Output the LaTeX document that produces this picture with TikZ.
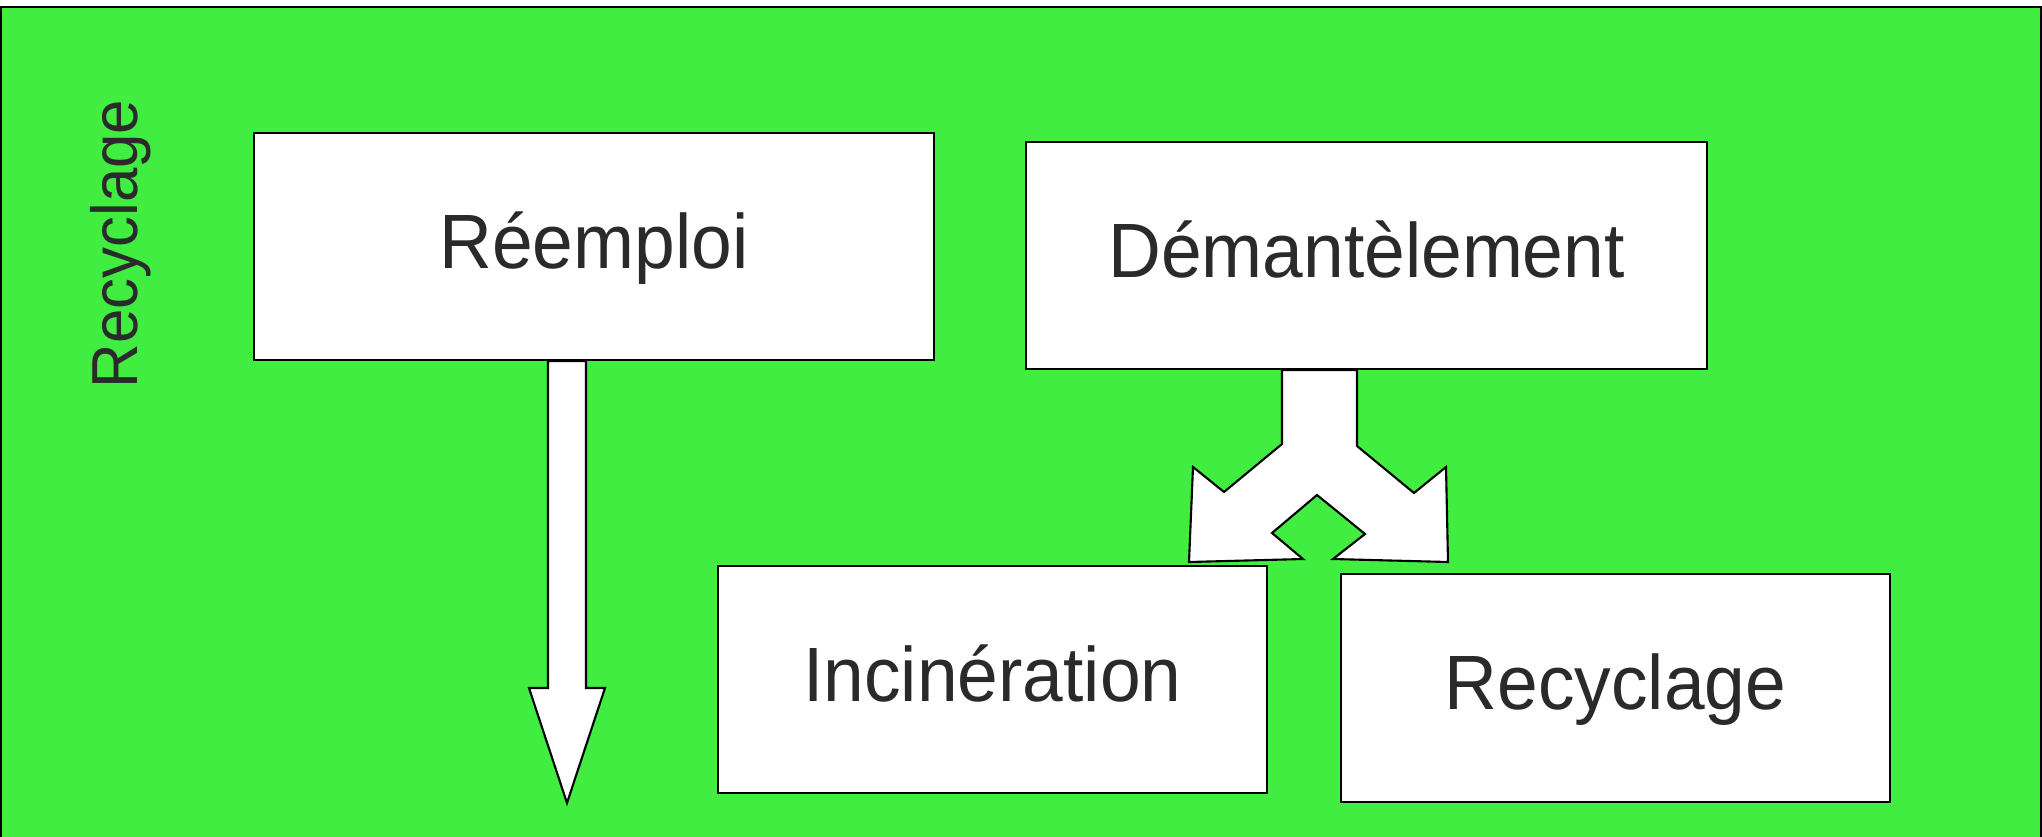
\documentclass[tikz,border=0pt]{standalone}
\usepackage{fontspec}
\setmainfont[FakeStretch=0.95]{Liberation Sans}
\definecolor{bggreen}{RGB}{64,237,64}
\definecolor{txtgray}{RGB}{42,42,42}

\begin{document}
\begin{tikzpicture}[
	x=0.01cm, y=-0.01cm,
	cell/.style={
		rectangle,
		draw,
		fill=white,
		line width=0.6pt,
		align=center,
		text=txtgray,
		font=\fontsize{21.9}{26}\selectfont,
		minimum height=2.27cm,
		text height=0.55cm,
		text depth=0.12cm,
		inner sep=0pt
	},
	BlockArrow/.style={% white block arrows
		draw,
		fill=white,
		line width=0.6pt,
		line join=miter
	},
]
	\useasboundingbox (0,0) rectangle (2042,836);
	\draw [fill=bggreen, line width=0.6pt] (0.5,7) rectangle (2041,860);

	\node [rotate=90, anchor=base, inner sep=0pt, text=txtgray, font=\fontsize{18.5}{22}\selectfont] (title) at (137.5,244) {Recyclage};

	\node [cell, minimum width=6.8cm] (reemploi) at (594,246.5) {Réemploi};
	\node [cell, minimum width=6.81cm] (demant) at (1366.5,255.5) {Démantèlement};

	\node [cell, minimum width=5.49cm] (incin) at (992.5,679.5) {Incinération};
	\node [cell, minimum width=5.49cm] (recyc) at (1615.5,688) {Recyclage};

	\coordinate (down) at (567,803);

	\draw [BlockArrow] (548,0 |- reemploi.south) -- (548,688) -- (529,688) -- (down)
		-- (605,688) -- (586,688) -- (586,0 |- reemploi.south) -- cycle;

	\draw [BlockArrow] (1282,0 |- demant.south) -- (1282,444) -- (1224,492) -- (1193,467)
		-- (1189,562) -- (1303,559) -- (1272,533) -- (1317,495) -- (1365,534) -- (1333,559)
		-- (1448,562) -- (1446,467) -- (1414,493) -- (1357,446) -- (1357,0 |- demant.south) -- cycle;
\end{tikzpicture}
\end{document}
